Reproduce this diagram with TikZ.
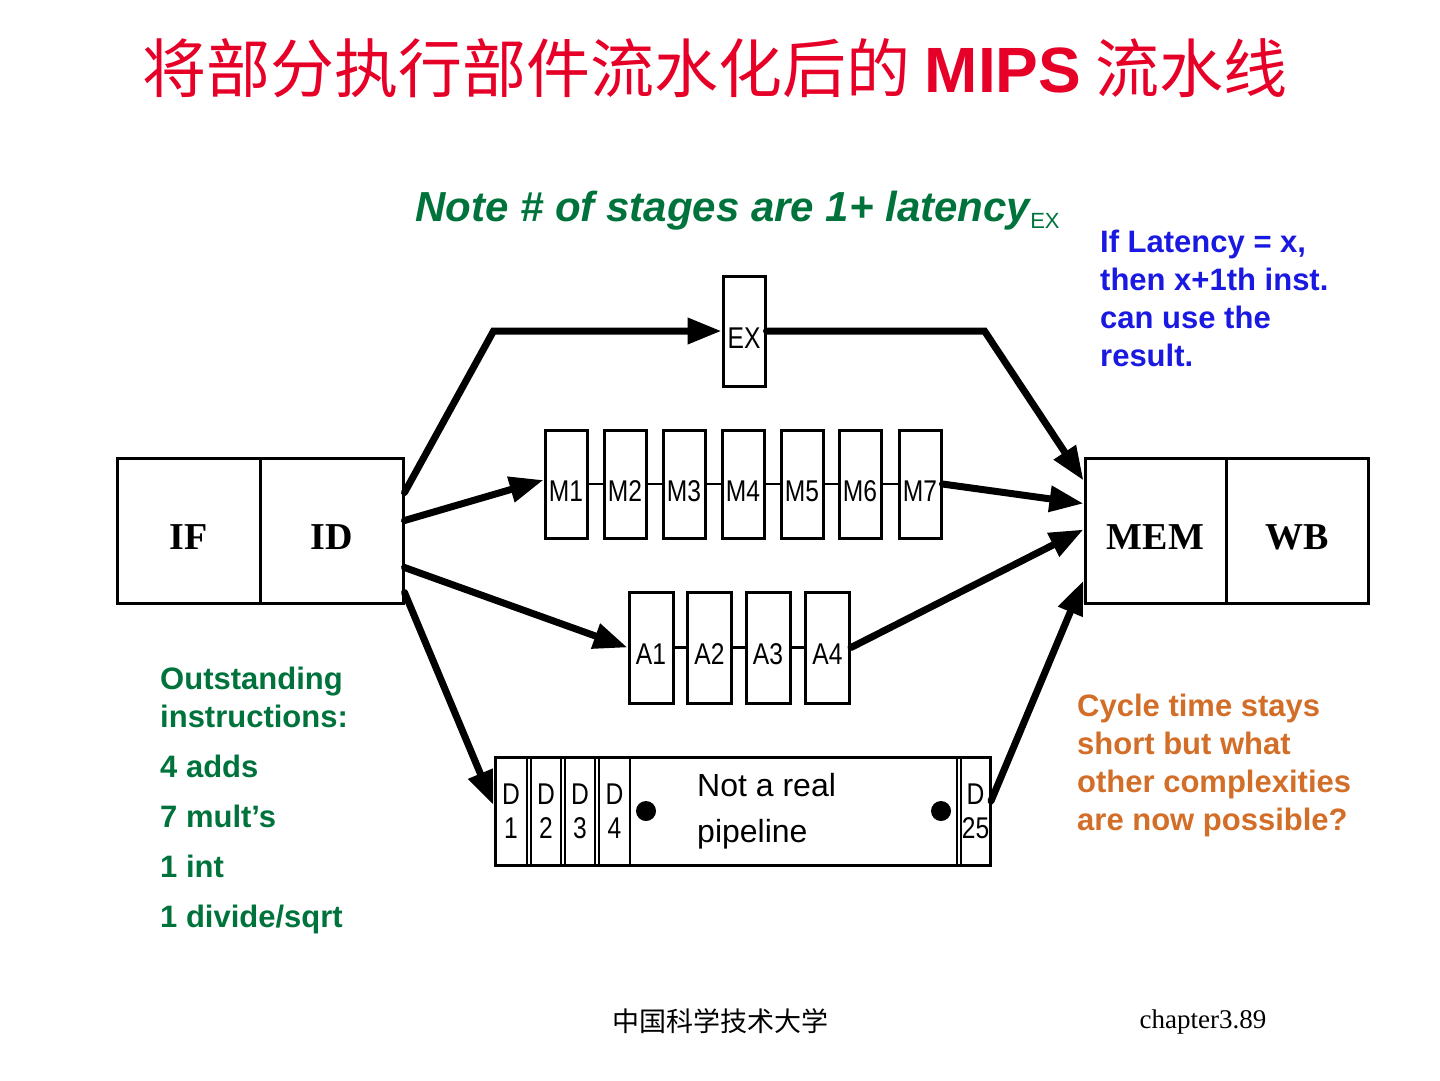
\documentclass[tikz,border=0pt]{standalone}
\usepackage{fontspec}
\setmainfont{Liberation Serif}
\setsansfont{Liberation Sans}
\newfontfamily\cjk{Noto Sans CJK SC}
\newfontfamily\labelsans[FakeStretch=0.82]{Liberation Sans}
\usepackage{xcolor}
\usepackage{tikz}
\usetikzlibrary{arrows.meta, positioning, calc}
\definecolor{titlered}{RGB}{230,0,40}
\definecolor{notegreen}{RGB}{0,115,60}
\definecolor{noteblue}{RGB}{25,25,225}
\definecolor{noteorange}{RGB}{210,110,40}
\tikzset{
  stagebox/.style={
    draw, line width=3pt, inner sep=0pt, minimum width=143pt, minimum height=145pt,
    font=\rmfamily\bfseries\fontsize{38}{40}\selectfont, text height=38pt, text depth=0pt
  },
  unitbox/.style={
    draw, line width=3pt, inner sep=0pt, minimum width=42pt, minimum height=108pt,
    font=\labelsans\fontsize{30}{34}\selectfont, text height=34pt, text depth=0pt
  },
  divcell/.style={
    draw, line width=2pt, inner sep=0pt, minimum height=108pt, align=center,
    font=\labelsans\fontsize{30}{34}\selectfont
  },
  pipearrow/.style={
    -{Triangle[length=34pt, width=25pt]}, line width=7pt, line cap=round
  },
  chainline/.style={line width=2.5pt},
  sidenote/.style={
    font=\sffamily\bfseries\fontsize{31}{38}\selectfont, align=left, inner sep=0pt
  },
}

\begin{document}
\begin{tikzpicture}[x=1pt, y=-1pt]
  \useasboundingbox (0,0) rectangle (1440,1080);

  % === Title ===
  \node[font=\cjk\fontsize{64}{64}\selectfont, text=titlered] (title) at (715,68)
    {将部分执行部件流水化后的 {\sffamily\bfseries MIPS} 流水线};
  \node[anchor=base west, inner sep=0pt, text=notegreen, font=\sffamily\bfseries\itshape\fontsize{42}{42}\selectfont] (stagenote) at (415,221)
    {Note \# of stages are 1+ latency{\upshape\mdseries\fontsize{22}{22}\selectfont\raisebox{-7pt}{EX}}};

  % === Front and back stages ===
  \node[stagebox] (if) at (188.5,530.5) {IF};
  \node[stagebox] (id) at (331.5,530.5) {ID};
  \node[stagebox, minimum width=141pt] (mem) at (1155.5,530.5) {MEM};
  \node[stagebox, minimum width=142pt] (wb) at (1297,530.5) {WB};

  % === Integer unit ===
  \node[unitbox, minimum height=110pt] (ex) at (744,331) {EX};

  % === FP multiplier ===
  \node[unitbox] (m1) at (566,484) {M1};
  \node[unitbox] (m2) at (625,484) {M2};
  \node[unitbox] (m3) at (684,484) {M3};
  \node[unitbox] (m4) at (743,484) {M4};
  \node[unitbox] (m5) at (802,484) {M5};
  \node[unitbox] (m6) at (860,484) {M6};
  \node[unitbox] (m7) at (920,484) {M7};

  % === FP adder ===
  \node[unitbox, minimum width=44pt, minimum height=111pt] (a1) at (651,647.5) {A1};
  \node[unitbox, minimum width=44pt, minimum height=111pt] (a2) at (709.5,647.5) {A2};
  \node[unitbox, minimum width=44pt, minimum height=111pt] (a3) at (768,647.5) {A3};
  \node[unitbox, minimum width=44pt, minimum height=111pt] (a4) at (827.5,647.5) {A4};

  % === FP divider ===
  \node[draw, line width=3pt, minimum width=495pt, minimum height=108pt] (divunit) at (742.5,811) {};
  \node[divcell, minimum width=32pt] (d1) at (511,811) {D\\1};
  \node[divcell, minimum width=30pt] (d2) at (546,811) {D\\2};
  \node[divcell, minimum width=30pt] (d3) at (580,811) {D\\3};
  \node[divcell, minimum width=31pt] (d4) at (614.5,811) {D\\4};
  \node[divcell, minimum width=327pt] (dbody) at (793.5,811) {};
  \node[divcell, minimum width=29pt] (d25) at (975.5,811) {D\\25};
  \node[circle, fill, inner sep=0pt, minimum size=20pt] (dotl) at ([xshift=17pt]dbody.west) {};
  \node[circle, fill, inner sep=0pt, minimum size=20pt] (dotr) at ([xshift=-17pt]dbody.east) {};
  \node[anchor=west, align=left, inner sep=0pt, font=\sffamily\fontsize{32}{46}\selectfont] (dnote) at ([xshift=68pt]dbody.west)
    {Not a real\\pipeline};

  % === Chains inside units ===
  \draw[chainline] (m1.east) -- (m2.west);
  \draw[chainline] (m2.east) -- (m3.west);
  \draw[chainline] (m3.east) -- (m4.west);
  \draw[chainline] (m4.east) -- (m5.west);
  \draw[chainline] (m5.east) -- (m6.west);
  \draw[chainline] (m6.east) -- (m7.west);
  \draw[chainline] (a1.east) -- (a2.west);
  \draw[chainline] (a2.east) -- (a3.west);
  \draw[chainline] (a3.east) -- (a4.west);

  % === Issue paths ===
  \draw[pipearrow] ([yshift=38pt]id.east) -- ([xshift=-228pt]ex.west) -- (ex.west);
  \draw[pipearrow] ([yshift=10pt]id.east) -- ([yshift=4pt]m1.west);
  \draw[pipearrow] ([yshift=-37pt]id.east) -- (a1.west);
  \draw[pipearrow] ([yshift=-62pt]id.east) -- ([yshift=6pt]divunit.west);

  % === Completion paths ===
  \draw[pipearrow] (ex.east) -- ([xshift=218pt]ex.east) -- ([yshift=50pt]mem.west);
  \draw[pipearrow] (m7.east) -- ([yshift=27pt]mem.west);
  \draw[pipearrow] (a4.east) -- ([yshift=1pt]mem.west);
  \draw[pipearrow] ([yshift=10pt]d25.east) -- ([yshift=-50pt]mem.west);

  % === Side notes ===
  \node[sidenote, anchor=north west, text=noteblue] (latnote) at (1100,230)
    {If Latency = x,\\then x+1th inst.\\can use the\\result.};
  \node[sidenote, anchor=north west, text=noteorange] (cyclenote) at (1077,694)
    {Cycle time stays\\short but what\\other complexities\\are now possible?};
  \node[sidenote, anchor=north west, text=notegreen] (countnote) at (160,667)
    {Outstanding\\instructions:\\[12pt]4 adds\\[12pt]7 mult’s\\[12pt]1 int\\[12pt]1 divide/sqrt};

  % === Footer ===
  \node[font=\cjk\fontsize{27}{27}\selectfont] (school) at (720,1021) {中国科学技术大学};
  \node[font=\rmfamily\fontsize{27}{27}\selectfont] (pageno) at (1203,1022) {chapter3.89};

\end{tikzpicture}
\end{document}
